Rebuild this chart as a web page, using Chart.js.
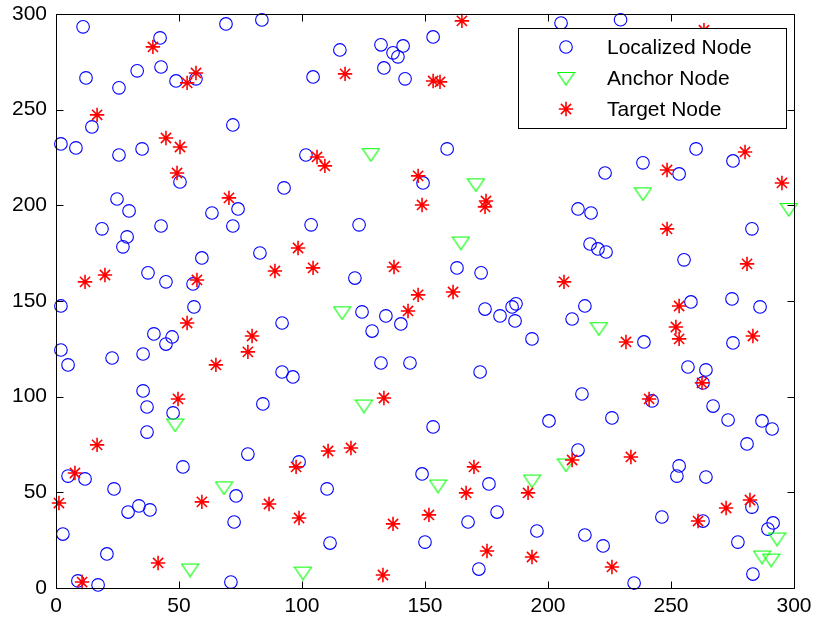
<!DOCTYPE html>
<html>
<head>
<meta charset="utf-8">
<script src="https://cdn.jsdelivr.net/npm/chart.js@4.4.1/dist/chart.umd.min.js"></script>
<style>
  html, body { margin: 0; padding: 0; background: #ffffff; }
  #wrap { width: 814px; height: 623px; }
</style>
</head>
<body>
<div id="wrap"><canvas id="c" width="814" height="623"></canvas></div>
<script>
// Node positions in the 300 x 300 field
const localizedX = [11.0, 42.3, 69.1, 83.7, 205.3, 229.5, 12.2, 25.6, 33.0, 42.7, 48.8, 56.9, 115.4, 132.1, 137.0, 139.0, 141.1, 133.3, 141.9, 104.5,
  153.3, 14.6, 2.0, 8.1, 25.6, 35.0, 50.4, 71.9, 101.6, 159.0, 24.8, 29.7, 63.4, 74.0, 92.7, 149.2, 223.2, 238.6, 253.3, 260.2,
  275.2, 18.7, 28.9, 27.2, 42.7, 59.3, 71.9, 103.7, 123.2, 212.2, 217.5, 217.1, 220.3, 223.6, 282.9, 255.3, 37.4, 44.7, 55.7, 56.1,
  2.0, 82.9, 121.5, 163.0, 172.8, 39.8, 47.2, 44.7, 2.0, 4.9, 22.8, 35.4, 91.9, 124.4, 134.1, 140.2, 128.5, 174.4, 180.5, 185.4,
  187.0, 186.6, 193.5, 215.0, 209.8, 258.1, 274.8, 286.2, 239.0, 275.2, 35.4, 37.0, 47.6, 91.9, 96.3, 132.1, 143.9, 172.4, 213.8, 256.9,
  264.2, 263.0, 242.3, 267.1, 84.1, 37.0, 200.4, 226.0, 273.2, 287.0, 291.1, 280.9, 212.2, 153.3, 51.6, 4.9, 11.8, 23.6, 29.3, 33.7,
  38.2, 2.8, 20.7, 8.9, 17.1, 78.0, 98.8, 73.2, 72.4, 110.2, 111.4, 71.1, 148.8, 176.0, 179.3, 167.5, 195.5, 150.0, 171.9, 215.0,
  222.4, 253.3, 252.4, 264.2, 246.3, 263.0, 282.9, 291.5, 289.4, 277.2, 283.3, 235.0];
const localizedY = [293.3, 287.5, 294.8, 296.9, 295.3, 297.0, 266.6, 261.4, 270.3, 272.3, 265.0, 266.1, 281.2, 283.9, 279.7, 277.6, 283.3, 271.8, 266.1, 267.1,
  288.0, 241.0, 232.1, 230.0, 226.3, 229.5, 212.2, 242.0, 226.3, 229.5, 203.3, 197.1, 196.0, 198.1, 209.1, 211.7, 216.9, 222.2, 216.4, 229.5,
  223.2, 187.7, 183.5, 178.3, 189.2, 172.5, 189.2, 189.8, 189.8, 198.1, 196.0, 179.8, 177.2, 175.6, 187.7, 171.5, 164.7, 160.0, 158.9, 146.9,
  147.4, 175.1, 162.0, 167.3, 164.7, 132.8, 131.2, 127.5, 124.4, 116.6, 120.2, 122.3, 138.5, 144.3, 142.2, 138.0, 134.3, 145.8, 142.2, 146.9,
  148.5, 139.6, 130.2, 147.4, 140.6, 149.5, 151.1, 146.9, 128.6, 128.1, 103.0, 94.6, 91.5, 112.9, 110.3, 117.6, 117.6, 112.9, 101.4, 115.5,
  114.0, 107.2, 97.8, 95.1, 96.2, 81.5, 87.3, 88.9, 87.8, 87.3, 83.1, 75.3, 72.1, 84.2, 63.3, 58.5, 57.0, 51.8, 39.7, 42.9,
  40.8, 28.2, 17.8, 3.7, 1.6, 70.0, 65.9, 48.1, 34.5, 51.8, 23.5, 3.1, 59.6, 54.4, 39.7, 34.5, 29.8, 24.0, 9.9, 27.7,
  22.0, 63.8, 58.5, 58.0, 37.1, 35.0, 42.3, 34.0, 30.8, 24.0, 7.3, 2.6];

const anchorX = [128.0, 170.7, 238.6, 297.9, 164.6, 220.7, 116.3, 125.2, 48.4, 54.5, 68.3, 100.4, 155.3, 193.5, 207.3, 293.1, 287.0, 290.7];
const anchorY = [226.5, 210.7, 206.0, 197.8, 180.3, 135.5, 143.8, 95.1, 85.2, 9.4, 52.3, 7.8, 53.3, 55.9, 64.3, 25.6, 16.2, 14.6];

const targetX = [39.4, 53.3, 56.9, 16.7, 44.7, 50.4, 49.2, 117.5, 106.1, 109.3, 70.3, 147.2, 148.8, 165.0, 153.3, 156.1, 174.8, 174.4, 248.4, 280.1,
  295.1, 263.4, 11.8, 19.9, 57.3, 53.3, 65.0, 49.6, 98.4, 89.0, 104.5, 137.4, 143.1, 147.2, 79.7, 78.0, 133.3, 206.5, 161.4, 248.4,
  280.9, 253.3, 252.0, 253.3, 231.7, 283.3, 262.6, 241.1, 16.7, 7.7, 1.2, 59.3, 41.5, 10.6, 97.6, 110.6, 119.9, 86.6, 98.8, 137.0,
  132.9, 169.9, 166.7, 191.9, 209.8, 151.6, 175.2, 193.5, 226.0, 233.7, 272.4, 282.1, 261.0];
const targetY = [282.8, 264.0, 269.2, 247.3, 235.2, 230.5, 216.9, 268.7, 225.3, 220.6, 203.9, 215.4, 200.2, 296.4, 265.0, 264.5, 202.3, 199.2, 218.5, 227.9,
  211.7, 291.5, 160.0, 163.6, 161.0, 138.5, 116.6, 98.8, 177.7, 165.7, 167.3, 167.8, 144.8, 153.2, 131.7, 123.4, 99.3, 160.0, 154.7, 187.7,
  169.4, 147.4, 136.4, 130.2, 128.6, 131.7, 107.2, 98.8, 74.8, 60.1, 44.4, 45.0, 13.1, 3.1, 63.3, 71.6, 73.2, 43.9, 36.6, 33.5,
  6.8, 63.3, 49.7, 49.7, 66.9, 38.2, 19.3, 16.2, 11.0, 68.5, 41.8, 46.0, 35.0];

const tickValues = [0, 50, 100, 150, 200, 250, 300];
const seriesNames = ['Localized Node', 'Anchor Node', 'Target Node'];

const FONT = { family: '"Liberation Sans", Arial, Helvetica, sans-serif', size: 21 };

const zip = (xs, ys) => xs.map((x, i) => ({ x: x, y: ys[i] }));

// Downward-pointing open triangle marker
function makeTriangle(color) {
  const w = 19, h = 15;
  const c = document.createElement('canvas');
  c.width = w; c.height = h;
  const g = c.getContext('2d');
  g.strokeStyle = color;
  g.lineWidth = 1.2;
  g.beginPath();
  g.moveTo(1, 1.5);
  g.lineTo(w - 1, 1.5);
  g.lineTo(w / 2, h - 1);
  g.closePath();
  g.stroke();
  return c;
}
const triangleMarker = makeTriangle('#00ff00');

// Box frame, inward ticks on all four sides, and the boxed legend
const framePlugin = {
  id: 'frame',
  afterDatasetsDraw(chart) {
    const ctx = chart.ctx;
    const a = chart.chartArea;
    const xs = chart.scales.x, ys = chart.scales.y;
    const L = Math.round(a.left) + 0.5, R = Math.round(a.right) + 0.5;
    const T = Math.round(a.top) + 0.5, B = Math.round(a.bottom) + 0.5;
    const tl = 7;
    ctx.save();
    ctx.strokeStyle = '#000000';
    ctx.lineWidth = 1;
    ctx.beginPath();
    ctx.rect(L, T, R - L, B - T);
    tickValues.forEach(v => {
      const px = Math.round(xs.getPixelForValue(v)) + 0.5;
      ctx.moveTo(px, B); ctx.lineTo(px, B - tl);
      ctx.moveTo(px, T); ctx.lineTo(px, T + tl);
      const py = Math.round(ys.getPixelForValue(v)) + 0.5;
      ctx.moveTo(L, py); ctx.lineTo(L + tl, py);
      ctx.moveTo(R, py); ctx.lineTo(R - tl, py);
    });
    ctx.stroke();

    // legend
    const bx = 518.5, by = 28.5, bw = 268, bh = 100;
    ctx.fillStyle = '#ffffff';
    ctx.fillRect(bx, by, bw, bh);
    ctx.strokeRect(bx, by, bw, bh);
    const rows = [47, 78.5, 109];
    chart.data.datasets.forEach((ds, i) => {
      ctx.save();
      ctx.strokeStyle = ds.borderColor;
      ctx.fillStyle = 'rgba(0,0,0,0)';
      ctx.lineWidth = ds.borderWidth;
      Chart.helpers.drawPoint(ctx, {
        pointStyle: ds.pointStyle,
        radius: ds.pointRadius,
        borderWidth: ds.borderWidth,
        rotation: 0
      }, 566, rows[i]);
      ctx.restore();
      ctx.fillStyle = '#000000';
      ctx.font = FONT.size + 'px ' + FONT.family;
      ctx.textBaseline = 'middle';
      ctx.textAlign = 'left';
      ctx.fillText(ds.label, 607, rows[i] + 1);
    });
    ctx.restore();
  }
};

const axisCommon = {
  type: 'linear',
  min: 0,
  max: 300,
  grid: { display: false, drawTicks: false },
  border: { display: false },
  ticks: {
    stepSize: 50,
    color: '#000000',
    font: FONT,
    autoSkip: false
  }
};

new Chart(document.getElementById('c'), {
  type: 'scatter',
  data: {
    datasets: [
      {
        label: seriesNames[0],
        data: zip(localizedX, localizedY),
        pointStyle: 'circle',
        pointRadius: 6.3,
        borderWidth: 1.1,
        borderColor: '#0000ff',
        backgroundColor: 'rgba(0,0,0,0)',
        clip: false,
        order: 2
      },
      {
        label: seriesNames[1],
        data: zip(anchorX, anchorY),
        pointStyle: triangleMarker,
        pointRadius: 9,
        borderWidth: 1.2,
        borderColor: '#00ff00',
        backgroundColor: 'rgba(0,0,0,0)',
        clip: false,
        order: 1
      },
      {
        label: seriesNames[2],
        data: zip(targetX, targetY),
        pointStyle: 'star',
        pointRadius: 7.2,
        borderWidth: 1.6,
        borderColor: '#ff0000',
        backgroundColor: '#ff0000',
        clip: false,
        order: 0
      }
    ]
  },
  options: {
    responsive: false,
    animation: false,
    events: [],
    layout: { padding: { top: 14, right: 20, left: 0, bottom: 0 } },
    plugins: {
      legend: { display: false },
      tooltip: { enabled: false },
      title: { display: false }
    },
    scales: {
      x: Object.assign({}, axisCommon, {
        position: 'bottom',
        ticks: Object.assign({}, axisCommon.ticks, { padding: 6 }),
        afterFit(scale) {
          scale.height = 35;
          scale.paddingLeft = 0; scale.paddingRight = 0;
        }
      }),
      y: Object.assign({}, axisCommon, {
        position: 'left',
        ticks: Object.assign({}, axisCommon.ticks, { padding: 9 }),
        afterFit(scale) {
          scale.width = 56;
          scale.paddingTop = 0; scale.paddingBottom = 0;
        }
      })
    }
  },
  plugins: [framePlugin]
});
</script>
</body>
</html>
